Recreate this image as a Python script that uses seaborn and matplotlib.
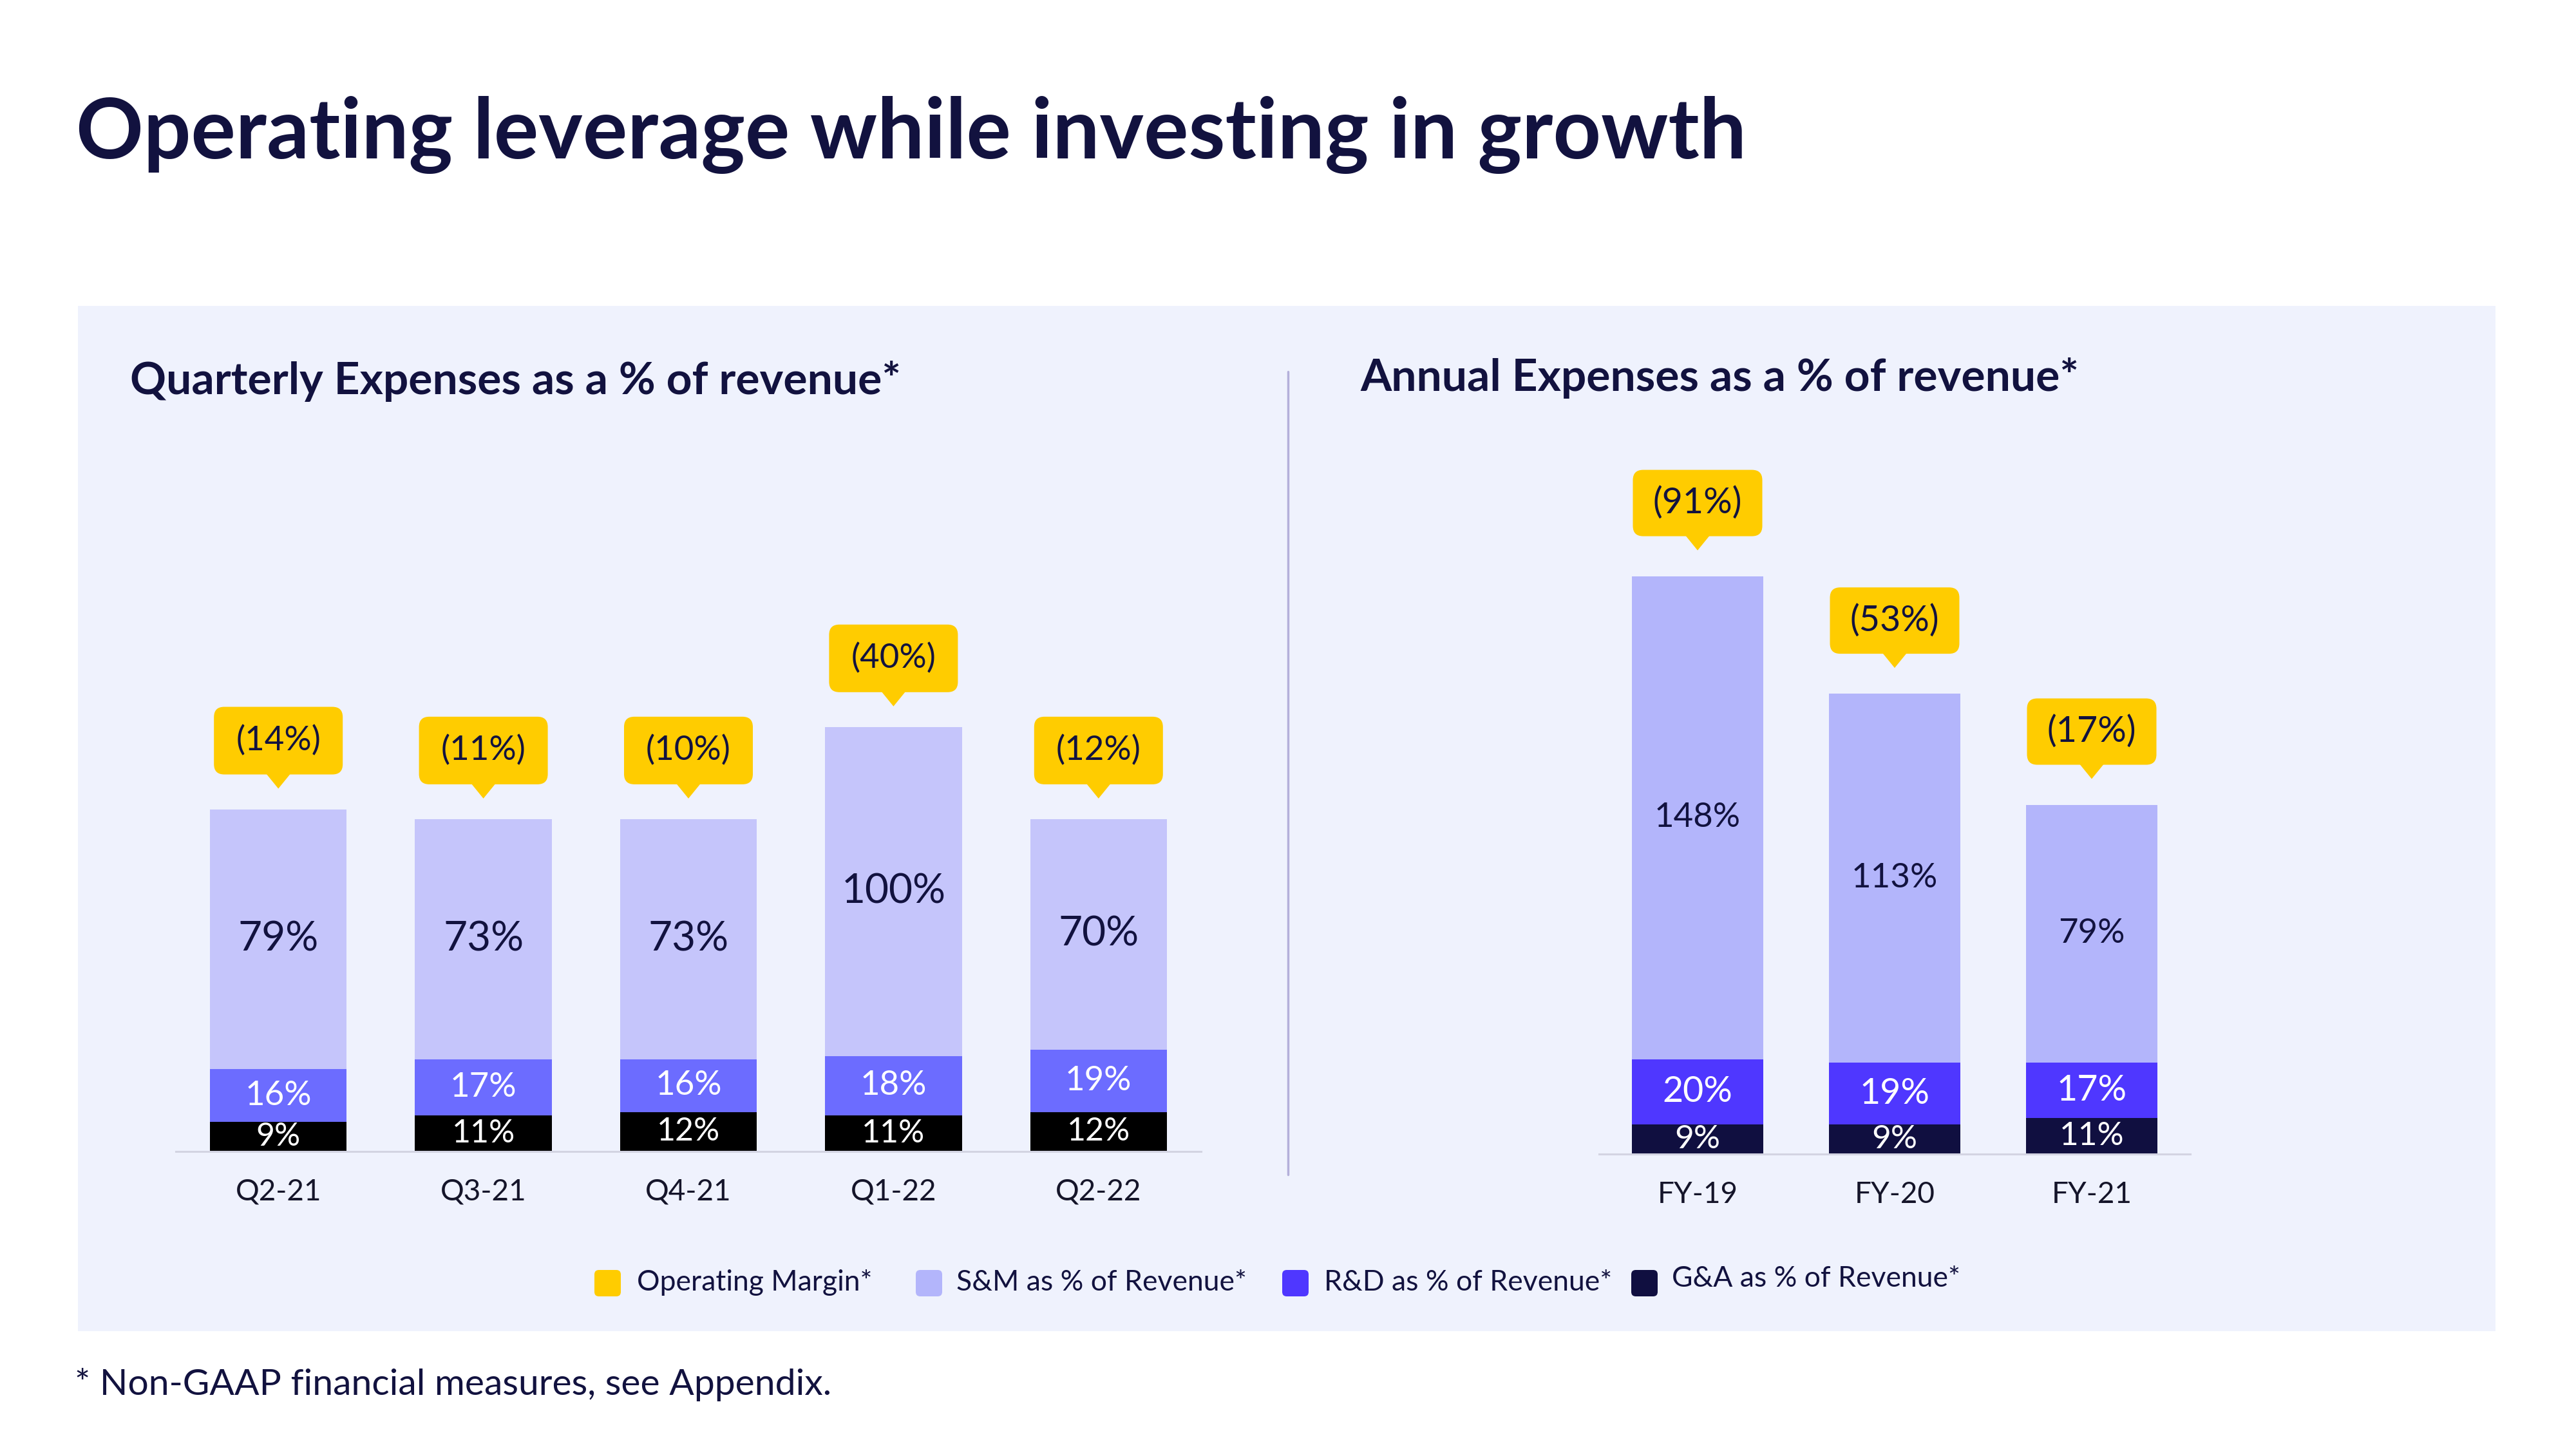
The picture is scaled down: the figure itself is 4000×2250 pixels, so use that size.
import matplotlib
matplotlib.use("Agg")
import matplotlib.pyplot as plt
import seaborn as sns
import pandas as pd
from matplotlib.patches import FancyBboxPatch, Polygon, Rectangle
from matplotlib.lines import Line2D

# ---------------- data ----------------
quarters = ["Q2-21", "Q3-21", "Q4-21", "Q1-22", "Q2-22"]
q_sm = [79, 73, 73, 100, 70]
q_rd = [16, 17, 16, 18, 19]
q_ga = [9, 11, 12, 11, 12]
q_om = [-14, -11, -10, -40, -12]

years = ["FY-19", "FY-20", "FY-21"]
a_sm = [148, 113, 79]
a_rd = [20, 19, 17]
a_ga = [9, 9, 11]
a_om = [-91, -53, -17]

title = "Operating leverage while investing in growth"
sub_q = "Quarterly Expenses as a % of revenue*"
sub_a = "Annual Expenses as a % of revenue*"
legend_labels = ["Operating Margin*", "S&M as % of Revenue*",
                 "R&D as % of Revenue*", "G&A as % of Revenue*"]
footnote = "* Non-GAAP financial measures, see Appendix."

# ---------------- style ----------------
NAVY = "#12123F"
YELLOW = "#FFCC00"
PANEL = "#EFF2FD"
Q_SM, Q_RD, Q_GA = "#C5C5FB", "#6C6CFF", "#000000"
A_SM, A_RD, A_GA = "#B3B5FB", "#4F37FF", "#100F40"

sns.set_theme(style="white")
plt.rcParams["font.family"] = ["Lato", "DejaVu Sans"]

W, H = 4000, 2250
fig = plt.figure(figsize=(40, 22.5), dpi=100, facecolor="white")


def fx(x):
    return x / W


def fy(y):
    return 1 - y / H


# panel background (behind everything)
fig.patches.append(Rectangle((fx(121), fy(2067)), (3875 - 121) / W, (2067 - 475) / H,
                             transform=fig.transFigure, fc=PANEL, ec="none", zorder=-10))
# divider
fig.lines.append(Line2D([fx(2000), fx(2000)], [fy(577), fy(1824)], transform=fig.transFigure,
                        color="#B4B0DA", lw=2.5, zorder=-5))

# texts
fig.text(fx(118), fy(246), title, fontsize=93.5, fontweight="bold", color=NAVY, va="baseline", ha="left")
fig.text(fx(202), fy(612), sub_q, fontsize=50, fontweight="bold", color=NAVY, va="baseline", ha="left")
fig.text(fx(2112), fy(607), sub_a, fontsize=50, fontweight="bold", color=NAVY, va="baseline", ha="left")
fig.text(fx(116), fy(2166), footnote, fontsize=41, color=NAVY, va="baseline", ha="left")


def make_axes(left, right, bottom, ymax, px_per_y):
    top = bottom - ymax * px_per_y
    ax = fig.add_axes([fx(left), fy(bottom), (right - left) / W, (bottom - top) / H])
    ax.set_facecolor("none")
    ax.set_zorder(2)
    return ax


def draw_panel(ax, cats, sm, rd, ga, om, colors, ymax, px_per_x, px_per_y,
               fs_sm, fs_rd, fs_ga, fs_bub, bub_w_px, bub_h_px, gap_px):
    c_sm, c_rd, c_ga = colors
    df = pd.DataFrame({"cat": cats, "sm": sm, "rd": rd, "ga": ga})
    df["total"] = df["sm"] + df["rd"] + df["ga"]
    df["lower"] = df["rd"] + df["ga"]
    for col, c in [("total", c_sm), ("lower", c_rd), ("ga", c_ga)]:
        sns.barplot(data=df, x="cat", y=col, color=c, saturation=1, width=0.667,
                    errorbar=None, linewidth=0, ax=ax, zorder=2)
    ax.set_xlim(-0.5, len(cats) - 0.5)
    ax.set_ylim(0, ymax)
    ax.set_xlabel("")
    ax.set_ylabel("")
    ax.set_yticks([])
    for s in ["top", "left", "right"]:
        ax.spines[s].set_visible(False)
    ax.spines["bottom"].set_color("#D3D4E2")
    ax.spines["bottom"].set_linewidth(2.2)
    ax.tick_params(axis="x", length=0, pad=30, labelsize=33, labelcolor="#15152A")

    for i, r in df.iterrows():
        ax.text(i, r["ga"] / 2, f"{r['ga']}%", ha="center", va="center",
                color="white", fontsize=fs_ga, zorder=5)
        ax.text(i, r["ga"] + r["rd"] / 2, f"{r['rd']}%", ha="center", va="center",
                color="white", fontsize=fs_rd, zorder=5)
        ax.text(i, r["lower"] + r["sm"] / 2, f"{r['sm']}%", ha="center", va="center",
                color=NAVY, fontsize=fs_sm, zorder=5)
        # bubble
        tip = r["total"] + gap_px / px_per_y
        tip_h = 22 / px_per_y
        tip_w = 40 / px_per_x
        bw = bub_w_px / px_per_x
        bh = bub_h_px / px_per_y
        b0 = tip + tip_h
        box = FancyBboxPatch((i - bw / 2, b0), bw, bh,
                             boxstyle=f"round,pad=0,rounding_size={16 / px_per_x}",
                             mutation_aspect=px_per_x / px_per_y,
                             fc=YELLOW, ec="none", zorder=4, clip_on=False)
        ax.add_patch(box)
        tri = Polygon([(i - tip_w / 2, b0 + 0.5), (i + tip_w / 2, b0 + 0.5), (i, tip)],
                      closed=True, fc=YELLOW, ec="none", zorder=4, clip_on=False)
        ax.add_patch(tri)
        ax.text(i, b0 + bh / 2, f"({abs(om[i])}%)", ha="center", va="center",
                color=NAVY, fontsize=fs_bub, zorder=6)


# quarterly
q_left, q_right, q_bottom, q_ymax, q_ppy = 273, 1865, 1788, 170, 5.11
ax_q = make_axes(q_left, q_right, q_bottom, q_ymax, q_ppy)
draw_panel(ax_q, quarters, q_sm, q_rd, q_ga, q_om, (Q_SM, Q_RD, Q_GA), q_ymax,
           (q_right - q_left) / len(quarters), q_ppy,
           fs_sm=46, fs_rd=38, fs_ga=36, fs_bub=38, bub_w_px=200, bub_h_px=105, gap_px=32)

# annual
a_left, a_right, a_bottom, a_ymax, a_ppy = 2483, 3401, 1792, 225, 5.07
ax_a = make_axes(a_left, a_right, a_bottom, a_ymax, a_ppy)
draw_panel(ax_a, years, a_sm, a_rd, a_ga, a_om, (A_SM, A_RD, A_GA), a_ymax,
           (a_right - a_left) / len(years), a_ppy,
           fs_sm=38, fs_rd=40, fs_ga=37, fs_bub=40, bub_w_px=201, bub_h_px=103, gap_px=40)

# legend (manual)
leg_colors = [YELLOW, A_SM, A_RD, A_GA]
sq_x = [923, 1422, 1991, 2533]
txt_x = [989, 1485, 2056, 2596]
txt_y = [1992, 1992, 1992, 1986]
for c, sx, tx, ty, lab in zip(leg_colors, sq_x, txt_x, txt_y, legend_labels):
    sq = FancyBboxPatch((fx(sx), fy(2013)), 41 / W, 41 / H,
                        boxstyle=f"round,pad=0,rounding_size={7 / W}",
                        mutation_aspect=W / H, transform=fig.transFigure,
                        fc=c, ec="none", zorder=3)
    fig.patches.append(sq)
    fig.text(fx(tx), fy(ty), lab, fontsize=32, color=NAVY, va="center", ha="left")

fig.savefig("out.png", dpi=100, facecolor="white")
